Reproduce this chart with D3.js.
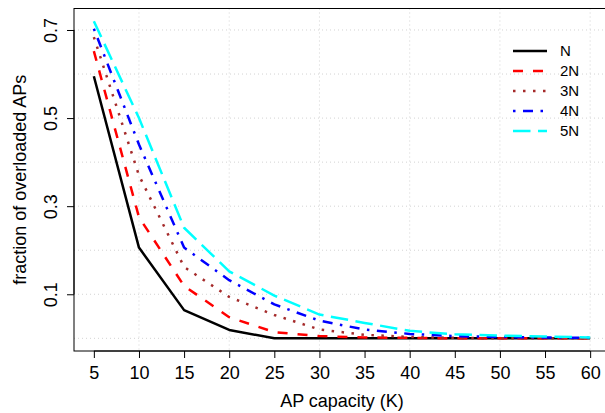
<!DOCTYPE html>
<html>
<head>
<meta charset="utf-8">
<script src="https://cdn.jsdelivr.net/npm/d3@7"></script>
<style>
	body { margin: 0; background: #fff; }
	svg { font-family: "Liberation Sans", Arial, sans-serif; }
</style>
</head>
<body>
<svg id="svg" width="605" height="413"></svg>
<script>
"use strict";

// AP capacity values (x axis)
const capacity = [5, 10, 15, 20, 25, 30, 35, 40, 45, 50, 55, 60];

// fraction of overloaded APs per load level
const loadN = [0.595, 0.206, 0.064, 0.019, 0.0, 0, 0, 0, 0, 0, 0, 0];
const load2N = [0.652, 0.275, 0.119, 0.048, 0.014, 0.005, 0.002, 0.001, 0, 0, 0, 0];
const load3N = [0.684, 0.37, 0.162, 0.094, 0.053, 0.02, 0.008, 0.003, 0.001, 0, 0, 0];
const load4N = [0.703, 0.44, 0.206, 0.132, 0.077, 0.04, 0.02, 0.01, 0.005, 0.003, 0.002, 0.001];
const load5N = [0.72, 0.5, 0.251, 0.152, 0.097, 0.054, 0.035, 0.017, 0.009, 0.006, 0.004, 0.002];

const seriesNames = ["N", "2N", "3N", "4N", "5N"];
const xTicks = [5, 10, 15, 20, 25, 30, 35, 40, 45, 50, 55, 60];
const yTicks = [0.1, 0.3, 0.5, 0.7];

const series = [
	{ values: loadN, color: "#000000", dash: null },
	{ values: load2N, color: "#ff0000", dash: "10,10" },
	{ values: load3N, color: "#a52a2a", dash: "2.5,7.5" },
	{ values: load4N, color: "#0000ff", dash: "2.5,7.5,10,7.5" },
	{ values: load5N, color: "#00ffff", dash: "17.5,7.5" },
];

const svg = d3.select("#svg");

// plot region (R style, 4% padding on data range); right edge runs off the picture
const box = { left: 74, right: 610, top: 8.5, bottom: 351 };
const xr = d3.extent(capacity);
const yr = [0, d3.max(load5N)];
const xpad = (xr[1] - xr[0]) * 0.04;
const ypad = (yr[1] - yr[0]) * 0.04;

const x = d3.scaleLinear()
	.domain([xr[0] - xpad, xr[1] + xpad])
	.range([box.left, box.right]);
const y = d3.scaleLinear()
	.domain([yr[0] - ypad, yr[1] + ypad])
	.range([box.bottom, box.top]);

// grid (light grey dotted)
const grid = svg.append("g").attr("id", "grid");
grid.selectAll(".vgrid")
	.data(d3.range(10, 61, 10))
	.enter()
	.append("line")
	.attr("x1", (d) => x(d))
	.attr("x2", (d) => x(d))
	.attr("y1", box.top)
	.attr("y2", box.bottom)
	.style("stroke", "#d3d3d3")
	.style("stroke-width", 1)
	.style("stroke-dasharray", "1,3");
grid.selectAll(".hgrid")
	.data(d3.range(0, 0.71, 0.1))
	.enter()
	.append("line")
	.attr("x1", box.left)
	.attr("x2", box.right)
	.attr("y1", (d) => y(d))
	.attr("y2", (d) => y(d))
	.style("stroke", "#d3d3d3")
	.style("stroke-width", 1)
	.style("stroke-dasharray", "1,3");

// lines
const line = d3.line()
	.x((d, i) => x(capacity[i]))
	.y((d) => y(d));

svg.append("g")
	.attr("id", "lines")
	.selectAll("path")
	.data(series)
	.enter()
	.append("path")
	.attr("d", (d) => line(d.values))
	.style("fill", "none")
	.style("stroke", (d) => d.color)
	.style("stroke-width", 2.5)
	.style("stroke-dasharray", (d) => d.dash)
	.style("stroke-linejoin", "round");

// box
svg.append("rect")
	.attr("x", box.left)
	.attr("y", box.top)
	.attr("width", box.right - box.left)
	.attr("height", box.bottom - box.top)
	.style("fill", "none")
	.style("stroke", "#000")
	.style("stroke-width", 1);

// x axis
const xAxis = svg.append("g")
	.attr("transform", `translate(0,${box.bottom})`)
	.call(d3.axisBottom(x).tickValues(xTicks).tickSize(7).tickPadding(8).tickSizeOuter(0));
xAxis.select(".domain")
	.attr("d", `M${x(xTicks[0])},0H${x(xTicks[xTicks.length - 1])}`);
xAxis.selectAll("text")
	.attr("font-size", "18px")
	.attr("font-family", "Liberation Sans, Arial, sans-serif");

// y axis, labels parallel to axis
const yAxis = svg.append("g")
	.attr("transform", `translate(${box.left},0)`)
	.call(d3.axisLeft(y).tickValues(yTicks).tickSize(7).tickFormat(d3.format(".1f")).tickSizeOuter(0));
yAxis.select(".domain")
	.attr("d", `M0,${y(yTicks[0])}V${y(yTicks[yTicks.length - 1])}`);
yAxis.selectAll("text")
	.attr("font-size", "18px")
	.attr("font-family", "Liberation Sans, Arial, sans-serif")
	.attr("x", null)
	.attr("dy", null)
	.attr("text-anchor", "middle")
	.attr("transform", "translate(-17,0) rotate(-90)");

// axis titles
svg.append("text")
	.text("AP capacity (K)")
	.attr("x", (box.left + box.right) / 2)
	.attr("y", 407)
	.attr("text-anchor", "middle")
	.attr("font-size", "18px");
svg.append("text")
	.text("fraction of overloaded APs")
	.attr("transform", `translate(26,${(box.top + box.bottom) / 2}) rotate(-90)`)
	.attr("text-anchor", "middle")
	.attr("font-size", "18px");

// legend
const legend = svg.append("g").attr("transform", "translate(513,51)");
const items = legend.selectAll("g")
	.data(series)
	.enter()
	.append("g")
	.attr("transform", (d, i) => `translate(0,${i * 20})`);
items.append("line")
	.attr("x1", 0)
	.attr("x2", 34)
	.style("stroke", (d) => d.color)
	.style("stroke-width", 2.5)
	.style("stroke-dasharray", (d) => d.dash);
items.append("text")
	.text((d, i) => seriesNames[i])
	.attr("x", 47)
	.attr("dy", "0.35em")
	.attr("font-size", "15px");
</script>
</body>
</html>
